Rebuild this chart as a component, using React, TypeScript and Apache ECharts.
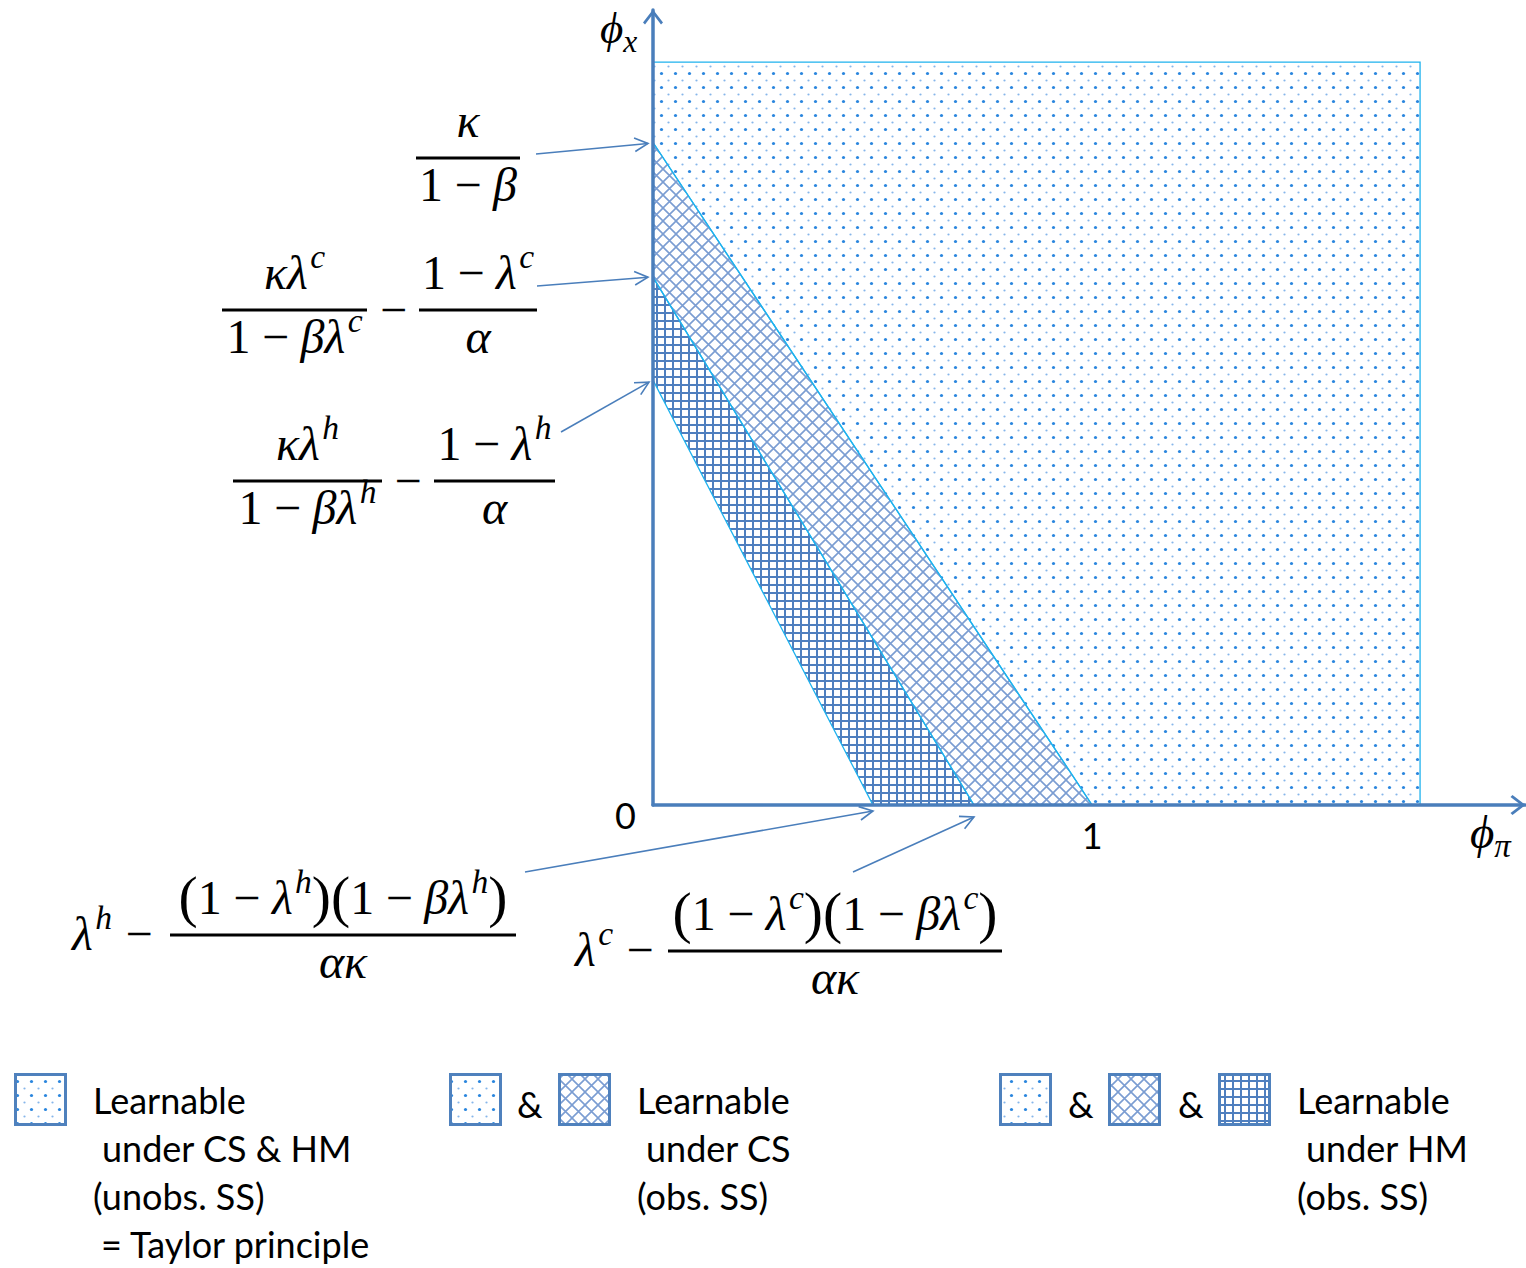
import React, { useEffect, useRef } from 'react';
import * as echarts from 'echarts';

// ---- data ----
const frontierNames = ['Taylor principle', 'Learnable under CS', 'Learnable under HM'];
const yIntercepts = [1.5, 1.195, 0.962]; // phi_x intercepts of the frontiers
const xIntercepts = [1.0, 0.731, 0.501]; // phi_pi intercepts of the frontiers
const regionCorner = [1.747, 1.682]; // upper-right corner of the drawn parameter region
const axisMax = [1.986, 1.8];
const xTickValues = [1];
const yTickValues = [0];
const legendLines1 = ['Learnable', 'under CS & HM', '(unobs. SS)', '= Taylor principle'];
const legendLines2 = ['Learnable', 'under CS', '(obs. SS)'];
const legendLines3 = ['Learnable', 'under HM', '(obs. SS)'];

const AXIS = '#4a7ebb';
const EDGE = '#1eb2ee';
const SERIF = '"Liberation Serif", "DejaVu Serif", serif';
const SANS = 'Lato, "Open Sans", sans-serif';
const S = 48;

type Tok = { t?: string; i?: boolean; s?: number; u?: number; g?: number };
const I = (t: string): Tok => ({ t, i: true });
const R = (t: string): Tok => ({ t });
const SUPT = (t: string): Tok => ({ t, i: true, s: 0.7, u: 0.44 });
const SUP = (t: string): Tok[] => [G(0.05), SUPT(t)];
const SUB = (t: string): Tok => ({ t, i: true, s: 0.7, u: -0.2 });
const G = (g: number): Tok => ({ g });
const MINUS: Tok[] = [G(0.24), R('−'), G(0.24)];
const LP: Tok = { t: '(', s: 1.2, u: -0.05 };
const RP: Tok = { t: ')', s: 1.2, u: -0.05 };

let measureCtx: CanvasRenderingContext2D | null = null;
function fontOf(size: number, italic?: boolean, family = SERIF) {
  return `${italic ? 'italic ' : ''}${size}px ${family}`;
}
function rowEls(toks: Tok[], size: number, x: number, baseline: number, align: 'left' | 'center') {
  if (!measureCtx) measureCtx = document.createElement('canvas').getContext('2d');
  let cx = 0;
  const pieces: any[] = [];
  for (const k of toks) {
    if (k.g != null) { cx += k.g * size; continue; }
    const fs = size * (k.s ?? 1);
    const font = fontOf(fs, k.i);
    measureCtx!.font = font;
    const w = measureCtx!.measureText(k.t!).width;
    pieces.push({ t: k.t, font, fs, dx: cx, up: (k.u ?? 0) * size });
    cx += w;
  }
  const x0 = align === 'center' ? x - cx / 2 : x;
  return pieces.map((p) => ({
    type: 'text', silent: true, z: 100,
    x: x0 + p.dx, y: baseline - p.up - 0.34 * p.fs,
    style: { text: p.t, font: p.font, fill: '#000', align: 'left', verticalAlign: 'middle' },
  }));
}
function frac(cx: number, barY: number, w: number, num: Tok[], den: Tok[]) {
  return [
    { type: 'line', silent: true, z: 100, shape: { x1: cx - w / 2, y1: barY, x2: cx + w / 2, y2: barY }, style: { stroke: '#000', lineWidth: 3 } },
    ...rowEls(num, S, cx, barY - 21, 'center'),
    ...rowEls(den, S, cx, barY + 43, 'center'),
  ];
}
function arrow(x1: number, y1: number, x2: number, y2: number) {
  const a = Math.atan2(y2 - y1, x2 - x1);
  const L = 15, t = 0.47;
  const p1 = [x2 - L * Math.cos(a - t), y2 - L * Math.sin(a - t)];
  const p2 = [x2 - L * Math.cos(a + t), y2 - L * Math.sin(a + t)];
  return [
    { type: 'line', silent: true, z: 100, shape: { x1, y1, x2, y2 }, style: { stroke: AXIS, lineWidth: 1.6 } },
    { type: 'polyline', silent: true, z: 100, shape: { points: [p1, [x2, y2], p2] }, style: { stroke: AXIS, lineWidth: 1.6, fill: null } },
  ];
}
function sansText(text: string, x: number, y: number) {
  return { type: 'text', silent: true, z: 100, x, y, style: { text, font: `36px ${SANS}`, fill: '#000', align: 'left', verticalAlign: 'middle' } };
}

function makeTile(size: number, draw: (ctx: CanvasRenderingContext2D, s: number) => void) {
  const c = document.createElement('canvas');
  c.width = size; c.height = size;
  const ctx = c.getContext('2d')!;
  draw(ctx, size);
  return { image: c, repeat: 'repeat', imageWidth: size, imageHeight: size };
}

export default function App() {
  const ref = useRef<HTMLDivElement>(null);
  useEffect(() => {
    const el = ref.current!;
    const chart = echarts.init(el, null, { renderer: 'svg' });

    const dotPattern = makeTile(14, (ctx) => {
      ctx.fillStyle = '#2a86de'; ctx.beginPath(); ctx.arc(3.5, 3.5, 1.6, 0, Math.PI * 2); ctx.fill();
      ctx.fillStyle = '#86b6ea'; ctx.beginPath(); ctx.arc(10.5, 10.5, 1.1, 0, Math.PI * 2); ctx.fill();
    });
    const crossPattern = makeTile(13, (ctx, s) => {
      ctx.strokeStyle = '#7b9dd2'; ctx.lineWidth = 1.6;
      ctx.beginPath(); ctx.moveTo(-2, -2); ctx.lineTo(s + 2, s + 2); ctx.moveTo(s + 2, -2); ctx.lineTo(-2, s + 2); ctx.stroke();
    });
    const gridPattern = makeTile(8, (ctx, s) => {
      ctx.fillStyle = '#4f7fbf'; ctx.fillRect(0, 0, s, 2); ctx.fillRect(0, 0, 2, s);
    });

    const [cxm, cym] = regionCorner;
    const polys = [
      [[0, cym], [cxm, cym], [cxm, 0], [xIntercepts[0], 0], [0, yIntercepts[0]]],
      [[0, yIntercepts[0]], [xIntercepts[0], 0], [xIntercepts[1], 0], [0, yIntercepts[1]]],
      [[0, yIntercepts[1]], [xIntercepts[1], 0], [xIntercepts[2], 0], [0, yIntercepts[2]]],
    ];
    const fills = [dotPattern, crossPattern, gridPattern];
    const series = polys.map((poly, k) => ({
      type: 'custom', name: frontierNames[k], coordinateSystem: 'cartesian2d', silent: true, z: 1,
      data: poly, encode: { x: 0, y: 1 },
      renderItem: (params: any, api: any) => {
        if (params.dataIndex !== 0) return null;
        return {
          type: 'polygon',
          shape: { points: poly.map((p) => api.coord(p)) },
          style: { fill: fills[k], stroke: EDGE, lineWidth: 1.3 },
        };
      },
    }));

    const CHEVRON = 'path://M0,13 L10,0 L20,13 L18,15 L10,4.5 L2,15 Z';
    const axisCommon = {
      type: 'value', min: 0, z: 5,
      axisTick: { show: false }, splitLine: { show: false },
      axisLine: { show: true, onZero: false, lineStyle: { color: AXIS, width: 3.5 }, symbol: ['none', CHEVRON], symbolSize: [20, 15], symbolOffset: [0, -7] },
    };
    chart.setOption({
      animation: false,
      backgroundColor: '#fff',
      grid: { left: 653, right: 1, top: 10, bottom: 463, containLabel: false, outerBoundsMode: 'none' },
      xAxis: {
        ...axisCommon, max: axisMax[0],
        axisLabel: { customValues: xTickValues, formatter: (v: number) => String(v), fontSize: 36, fontFamily: SANS, color: '#000', margin: 12 },
      },
      yAxis: {
        ...axisCommon, max: axisMax[1],
        axisLabel: { customValues: yTickValues, formatter: (v: number) => String(v), fontSize: 36, fontFamily: SANS, color: '#000', margin: 17, verticalAlign: 'top', lineHeight: 20 },
      },
      series,
    });

    const px = (v: number[]) => chart.convertToPixel({ gridIndex: 0 }, v) as unknown as number[];
    const tA = px([0, yIntercepts[0]]);
    const tB = px([0, yIntercepts[1]]);
    const tC = px([0, yIntercepts[2]]);
    const tD = px([xIntercepts[2], 0]);
    const tE = px([xIntercepts[1], 0]);

    const elements: any[] = [
      // axis names
      ...rowEls([I('ϕ'), SUB('x')], 45, 600, 43, 'left'),
      ...rowEls([I('ϕ'), SUB('π')], 47, 1470, 848, 'left'),
      // kappa / (1 - beta)
      ...frac(468, 158, 104, [I('κ')], [R('1'), ...MINUS, I('β')]),
      // CS intercept
      ...frac(294.5, 310, 145, [I('κ'), I('λ'), ...SUP('c')], [R('1'), ...MINUS, I('β'), I('λ'), ...SUP('c')]),
      ...rowEls([R('−')], S, 393.5, 326, 'center'),
      ...frac(478, 310, 118, [R('1'), ...MINUS, I('λ'), ...SUP('c')], [I('α')]),
      // HM intercept
      ...frac(307.5, 481, 149, [I('κ'), I('λ'), ...SUP('h')], [R('1'), ...MINUS, I('β'), I('λ'), ...SUP('h')]),
      ...rowEls([R('−')], S, 408, 497, 'center'),
      ...frac(494.5, 481, 121, [R('1'), ...MINUS, I('λ'), ...SUP('h')], [I('α')]),
      // HM phi_pi intercept
      ...rowEls([I('λ'), ...SUP('h'), G(0.28), R('−')], S, 72, 950, 'left'),
      ...frac(343, 935, 346, [LP, R('1'), ...MINUS, I('λ'), ...SUP('h'), RP, LP, R('1'), ...MINUS, I('β'), I('λ'), ...SUP('h'), RP], [I('α'), I('κ')]),
      // CS phi_pi intercept
      ...rowEls([I('λ'), ...SUP('c'), G(0.28), R('−')], S, 575, 966, 'left'),
      ...frac(835, 951, 334, [LP, R('1'), ...MINUS, I('λ'), ...SUP('c'), RP, LP, R('1'), ...MINUS, I('β'), I('λ'), ...SUP('c'), RP], [I('α'), I('κ')]),
      // arrows
      ...arrow(536, 154, tA[0] - 5, tA[1] + 1),
      ...arrow(537, 286, tB[0] - 5, tB[1]),
      ...arrow(561, 432, tC[0] - 4, tC[1] + 2),
      ...arrow(525, 872, tD[0], tD[1] + 6),
      ...arrow(853, 872, tE[0], tE[1] + 12),
    ];

    // legend
    const box = (x: number, fill: any) => ({
      type: 'rect', silent: true, z: 100, shape: { x, y: 1074.5, width: 50, height: 50 },
      style: { fill, stroke: '#4f81bd', lineWidth: 3 },
    });
    elements.push(box(15.5, dotPattern));
    const lineY = [1100, 1148, 1196, 1244];
    const indent1 = [93, 102, 93, 101];
    legendLines1.forEach((t, k) => elements.push(sansText(t, indent1[k], lineY[k])));

    elements.push(box(450.5, dotPattern), sansText('&', 517, 1104), box(559.5, crossPattern));
    const indent2 = [637, 646, 637];
    legendLines2.forEach((t, k) => elements.push(sansText(t, indent2[k], lineY[k])));

    elements.push(box(1000.5, dotPattern), sansText('&', 1068, 1104), box(1109.5, crossPattern), sansText('&', 1178, 1104), box(1219.5, gridPattern));
    const indent3 = [1297, 1306, 1297];
    legendLines3.forEach((t, k) => elements.push(sansText(t, indent3[k], lineY[k])));

    chart.setOption({ graphic: { elements } });
    return () => chart.dispose();
  }, []);
  return <div ref={ref} style={{ position: 'fixed', left: 0, top: 0, width: 1526, height: 1268, background: '#fff' }} />;
}
